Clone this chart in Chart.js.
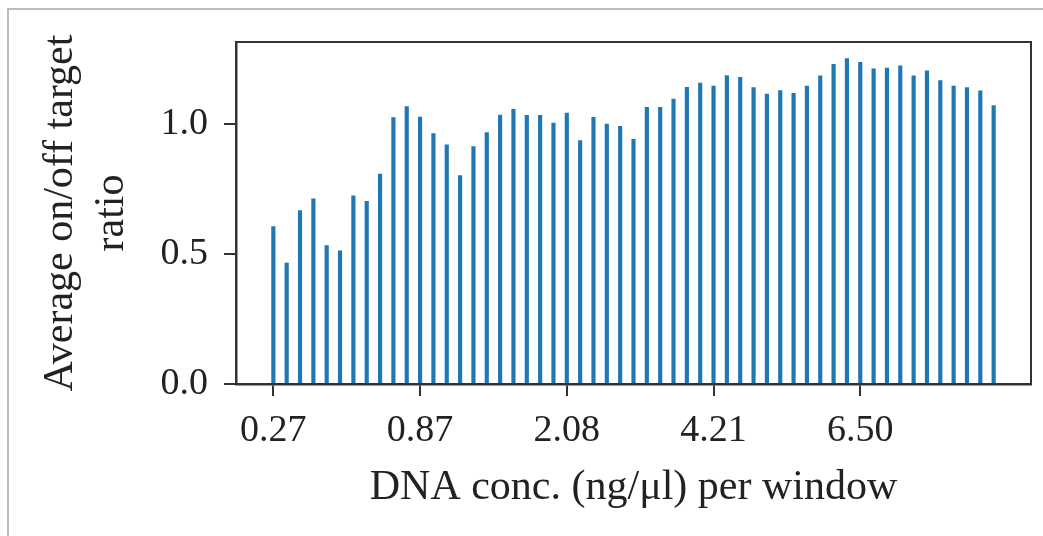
<!DOCTYPE html>
<html>
<head>
<meta charset="utf-8">
<script src="https://cdn.jsdelivr.net/npm/chart.js@4/dist/chart.umd.min.js"></script>
<style>
  html, body { margin: 0; padding: 0; background: #fff; }
  #wrap { position: relative; width: 1043px; height: 536px; overflow: hidden; }
  #frame { position: absolute; left: 7px; top: 8px; right: -5px; bottom: -5px;
           border-left: 2px solid #bdbdb6; border-top: 2px solid #bdbdb6; }
  canvas { position: absolute; left: 0; top: 0; }
</style>
</head>
<body>
<div id="wrap">
  <div id="frame"></div>
  <canvas id="ratioChart" width="1043" height="536"></canvas>
</div>
<script>
// Data: one bar per window
const ratios = [
  0.606, 0.466, 0.668, 0.713, 0.533, 0.513, 0.725, 0.703, 0.808, 1.026,
  1.068, 1.028, 0.964, 0.921, 0.803, 0.914, 0.968, 1.036, 1.058, 1.035,
  1.035, 1.005, 1.043, 0.937, 1.027, 1.001, 0.992, 0.942, 1.065, 1.065,
  1.097, 1.142, 1.159, 1.147, 1.188, 1.181, 1.141, 1.116, 1.130, 1.119,
  1.147, 1.187, 1.231, 1.253, 1.239, 1.214, 1.217, 1.225, 1.187, 1.206,
  1.168, 1.147, 1.141, 1.129, 1.072
];
const xTickIndex = [0, 11, 22, 33, 44];
const xTickLabels = ["0.27", "0.87", "2.08", "4.21", "6.50"];
const yTicks = [0, 0.5, 1.0];

const serif = "'Liberation Serif', 'DejaVu Serif', serif";
const axisColor = "#333";

// Box round the plot area
const frameBox = {
  id: "frameBox",
  afterDatasetsDraw(chart) {
    const { ctx, chartArea: a } = chart;
    ctx.save();
    ctx.strokeStyle = axisColor;
    ctx.lineWidth = 2;
    ctx.strokeRect(a.left, a.top, a.right - a.left, a.bottom - a.top);
    ctx.restore();
  }
};

const ctx = document.getElementById("ratioChart").getContext("2d");

new Chart(ctx, {
  type: "bar",
  data: {
    datasets: [{
      data: ratios.map((v, i) => ({ x: i, y: v })),
      backgroundColor: "#1f77b4",
      barThickness: 3.5
    }]
  },
  plugins: [frameBox],
  options: {
    responsive: false,
    animation: false,
    layout: { padding: { top: 42, right: 12, left: 0, bottom: 0 } },
    plugins: { legend: { display: false }, tooltip: { enabled: false } },
    scales: {
      x: {
        type: "linear",
        offset: false,
        min: -2.8,
        max: 56.8,
        afterBuildTicks: s => { s.ticks = xTickIndex.map(v => ({ value: v })); },
        afterFit: s => { s.height = 152; },
        ticks: {
          autoSkip: false,
          maxRotation: 0,
          color: "#222",
          padding: 12,
          font: { family: serif, size: 38 },
          callback: v => xTickLabels[xTickIndex.indexOf(v)]
        },
        grid: { offset: false, drawOnChartArea: false, tickLength: 12, color: axisColor, lineWidth: 2 },
        border: { color: axisColor, width: 2.5 },
        title: {
          display: true,
          text: "DNA conc. (ng/\u03bcl) per window",
          color: "#222",
          font: { family: serif, size: 42 },
          padding: { top: 0, bottom: 23 }
        }
      },
      y: {
        min: 0,
        max: 1.317,
        afterBuildTicks: s => { s.ticks = yTicks.map(v => ({ value: v })); },
        afterFit: s => { s.width = 236; },
        ticks: {
          color: "#222",
          padding: 16,
          font: { family: serif, size: 38 },
          callback: v => v.toFixed(1)
        },
        grid: { drawOnChartArea: false, tickLength: 12, color: axisColor, lineWidth: 2 },
        border: { color: axisColor, width: 2.5 },
        title: {
          display: true,
          text: ["Average on/off target", "ratio"],
          color: "#222",
          font: { family: serif, size: 42 },
          padding: { top: 36, bottom: 0 }
        }
      }
    }
  }
});
</script>
</body>
</html>
